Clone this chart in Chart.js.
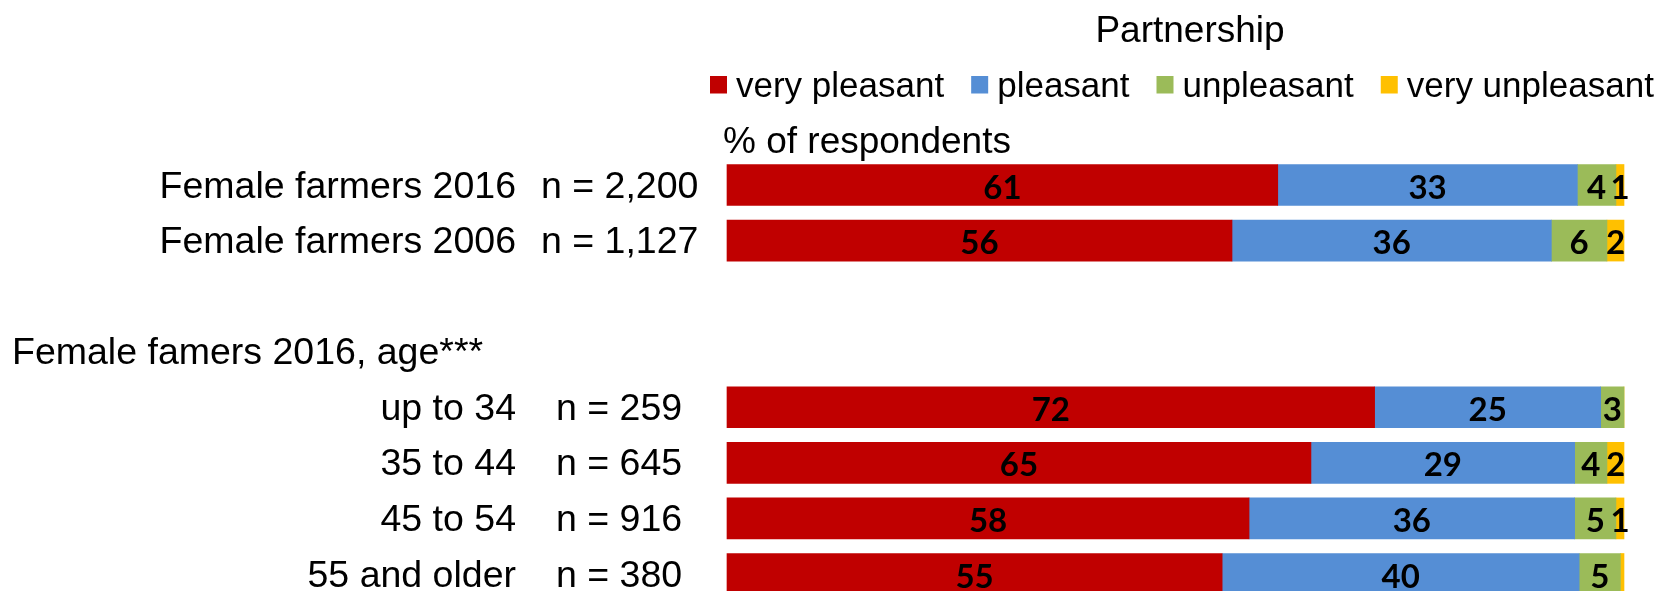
<!DOCTYPE html>
<html>
<head>
<meta charset="utf-8">
<script src="https://cdn.jsdelivr.net/npm/chart.js@4"></script>
<style>
    html, body { margin: 0; padding: 0; background: #fff; overflow: hidden; }
</style>
</head>
<body>
<canvas id="myChart" width="1661" height="591"></canvas>
<script>
const groups = ["Female farmers 2016", "Female farmers 2006", "", "Female famers 2016, age***", "up to 34", "35 to 44", "45 to 54", "55 and older"];
const sizes = ["2,200", "1,127", "", "", "259", "645", "916", "380"];

const seriesNames = ["very pleasant", "pleasant", "unpleasant", "very unpleasant"];
const seriesColors = ["#C00000", "#558ED5", "#9BBB59", "#FFC000"];

const veryPleasant = [61.4, 56.3, null, null, 72.2, 65.1, 58.2, 55.2];
const pleasant = [33.4, 35.6, null, null, 25.2, 29.4, 36.3, 39.8];
const unpleasant = [4.3, 6.2, null, null, 2.6, 3.6, 4.6, 4.6];
const veryUnpleasant = [0.9, 1.9, null, null, 0, 1.9, 0.9, 0.4];

const title = "Partnership";
const unitLabel = "% of respondents";

const sansFont = "'Liberation Sans', Arial, sans-serif";

// titles, legend, row labels and value labels
const textPlugin = {
    id: 'textPlugin',
    afterDatasetsDraw(chart) {
        const c = chart.ctx;
        const yScale = chart.scales.y;
        c.save();
        c.fillStyle = "#000";
        c.textBaseline = "alphabetic";

        // value labels in the middle of each segment
        c.font = "bold 33px Lato, 'DejaVu Sans', sans-serif";
        c.textAlign = "center";
        chart.data.datasets.forEach((ds, i) => {
            chart.getDatasetMeta(i).data.forEach((bar, j) => {
                const v = ds.data[j];
                if (v == null || v < 0.5) return;
                const p = bar.getCenterPoint();
                c.fillText(Math.round(v), p.x, p.y + 13.5);
            });
        });

        // title
        c.font = "37px " + sansFont;
        c.fillText(title, 1190, 42);

        // legend
        c.font = "35px " + sansFont;
        c.textAlign = "left";
        let x = 710;
        chart.data.datasets.forEach(ds => {
            c.fillStyle = ds.backgroundColor;
            c.fillRect(x, 76, 17, 17.5);
            c.fillStyle = "#000";
            c.fillText(ds.label, x + 26, 97);
            x += 26 + c.measureText(ds.label).width + 27;
        });

        // unit
        c.font = "37px " + sansFont;
        c.fillText(unitLabel, 723, 153);

        // row labels
        c.font = "37.5px " + sansFont;
        groups.forEach((g, i) => {
            const y = yScale.getPixelForValue(i) + 12.5;
            if (i == 3) {
                c.textAlign = "left";
                c.fillText(g, 12, y);
                return;
            }
            if (g == "") return;
            c.textAlign = "right";
            c.fillText(g, 516, y);
            c.textAlign = "left";
            c.fillText("n = " + sizes[i], i < 2 ? 541 : 556, y);
        });
        c.restore();
    }
};

const chart = new Chart(document.getElementById('myChart'), {
    type: "bar",
    data: {
        labels: groups,
        datasets: [
            { label: seriesNames[0], data: veryPleasant, backgroundColor: seriesColors[0] },
            { label: seriesNames[1], data: pleasant, backgroundColor: seriesColors[1] },
            { label: seriesNames[2], data: unpleasant, backgroundColor: seriesColors[2] },
            { label: seriesNames[3], data: veryUnpleasant, backgroundColor: seriesColors[3] },
        ],
    },
    options: {
        indexAxis: 'y',
        responsive: false,
        animation: false,
        devicePixelRatio: 1,
        datasets: {
            bar: {
                barThickness: 41,
                borderWidth: 0,
                clip: false,
            }
        },
        layout: {
            padding: { left: 727, right: 37, top: 185, bottom: 17 }
        },
        scales: {
            x: {
                stacked: true,
                min: 0,
                max: 100,
                display: false,
            },
            y: {
                stacked: true,
                offset: false,
                display: false,
            }
        },
        plugins: {
            legend: { display: false },
            title: { display: false },
            tooltip: { enabled: false }
        }
    },
    plugins: [textPlugin]
});
</script>
</body>
</html>
